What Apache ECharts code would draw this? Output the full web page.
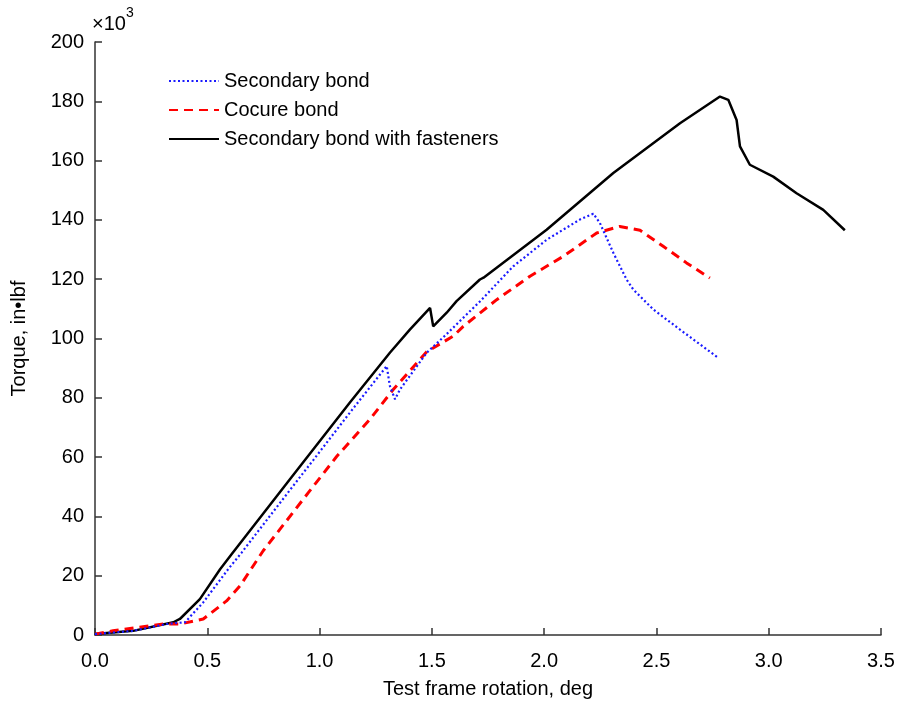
<!DOCTYPE html>
<html><head><meta charset="utf-8">
<script src="https://cdn.jsdelivr.net/npm/echarts@6/dist/echarts.min.js"></script>
<style>html,body{margin:0;padding:0;background:#fff}#c{width:899px;height:704px}</style>
</head><body><div id="c"></div>
<script>
const seriesNames = ["Secondary bond", "Cocure bond", "Secondary bond with fasteners"];
const xTicks = [0, 0.5, 1.0, 1.5, 2.0, 2.5, 3.0, 3.5];
const yTicks = [0, 20, 40, 60, 80, 100, 120, 140, 160, 180, 200];

const secondaryBond = [
  [0,0.3],[0.17,1.4],[0.319,3.7],[0.401,4.3],[0.482,11],[0.593,22.2],[0.653,27.8],[0.905,52.5],
  [0.972,59],[1.135,75],[1.299,90.7],[1.313,84],[1.336,79.5],[1.358,82.8],[1.477,95.2],
  [1.566,101.5],[1.714,112.5],[1.862,124.3],[2.011,133.3],[2.159,140.1],[2.219,142.1],
  [2.248,139],[2.308,128.9],[2.367,119.9],[2.397,116.5],[2.486,109.8],[2.605,103],[2.775,93.5]
];
const cocureBond = [
  [0,0.3],[0.08,1.4],[0.304,3.7],[0.378,3.7],[0.482,5.4],[0.586,11.5],[0.646,16.6],[0.749,28.4],
  [0.95,48],[1.076,60.2],[1.224,72.7],[1.328,82.8],[1.477,95.5],[1.595,100.8],
  [1.64,104.1],[1.789,113.1],[1.937,121],[2.085,127.7],[2.234,135.6],[2.337,137.8],
  [2.427,136.5],[2.53,131.1],[2.634,125.5],[2.738,120.4]
];
const withFasteners = [
  [0,0.3],[0.17,1.4],[0.349,4.3],[0.378,5.4],[0.467,12.1],[0.557,22.2],[0.609,27.3],[0.868,52.5],
  [1.135,78.4],[1.313,95.2],[1.402,103],[1.492,110.3],[1.506,104.1],[1.566,108.7],
  [1.61,112.6],[1.714,119.9],[1.73,120.5],[2.011,136.7],[2.308,155.8],[2.605,172.6],
  [2.783,181.6],[2.82,180.5],[2.857,173.7],[2.872,164.8],[2.916,158.6],[3.02,154.6],
  [3.124,149],[3.243,143.4],[3.339,136.5]
];

const chart = echarts.init(document.getElementById('c'));
const FONT = 'Liberation Sans';
const axisCol = '#333';
chart.setOption({
  animation: false,
  textStyle: {fontFamily: FONT},
  grid: {left: 95, right: 18, top: 42, bottom: 68},
  legend: {
    orient: 'vertical', left: 163, top: 66, itemWidth: 50, itemHeight: 14, itemGap: 9,
    itemStyle: {opacity: 0},
    textStyle: {fontSize: 20, color: '#000', fontFamily: FONT, lineHeight: 20},
    data: seriesNames
  },
  xAxis: {
    type: 'value', min: 0, max: 3.5, interval: 0.5,
    name: 'Test frame rotation, deg', nameLocation: 'middle', nameGap: 44,
    nameTextStyle: {fontSize: 20, color: '#000', fontFamily: FONT},
    axisLine: {lineStyle: {color: axisCol, width: 1.5}},
    axisTick: {inside: true, length: 7, lineStyle: {color: axisCol, width: 1.5}},
    axisLabel: {fontSize: 20, color: '#000', margin: 16, fontFamily: FONT,
      formatter: v => xTicks.includes(+v.toFixed(1)) ? v.toFixed(1) : ''},
    splitLine: {show: false}
  },
  yAxis: {
    type: 'value', min: 0, max: 200, interval: 20,
    name: 'Torque, in•lbf', nameLocation: 'middle', nameGap: 66, nameRotate: 90,
    nameTextStyle: {fontSize: 20, color: '#000', fontFamily: FONT},
    axisLine: {show: true, lineStyle: {color: axisCol, width: 1.5}},
    axisTick: {show: true, inside: true, length: 7, lineStyle: {color: axisCol, width: 1.5}},
    axisLabel: {fontSize: 20, color: '#000', margin: 11, fontFamily: FONT,
      formatter: v => yTicks.includes(v) ? String(v) : ''},
    splitLine: {show: false}
  },
  graphic: [{
    type: 'text', left: 92, top: 6,
    style: {
      text: '{a|×10}{b|3}', fill: '#000',
      rich: {
        a: {fontSize: 20, fontFamily: FONT, verticalAlign: 'bottom', lineHeight: 28},
        b: {fontSize: 14, fontFamily: FONT, verticalAlign: 'top', lineHeight: 28, padding: [0,0,12,0]}
      }
    }
  }],
  series: [
    {name: seriesNames[0], type: 'line', data: secondaryBond, showSymbol: false, symbol: 'none',
     lineStyle: {color: '#1a1aff', width: 2.2, type: [2, 2.5]}, itemStyle: {color: '#1a1aff'}, z: 3},
    {name: seriesNames[1], type: 'line', data: cocureBond, showSymbol: false, symbol: 'none',
     lineStyle: {color: '#ff0000', width: 3, type: [9, 6]}, itemStyle: {color: '#ff0000'}, z: 2},
    {name: seriesNames[2], type: 'line', data: withFasteners, showSymbol: false, symbol: 'none',
     lineStyle: {color: '#000', width: 2.5, type: 'solid'}, itemStyle: {color: '#000'}, z: 1}
  ]
});
</script></body></html>
